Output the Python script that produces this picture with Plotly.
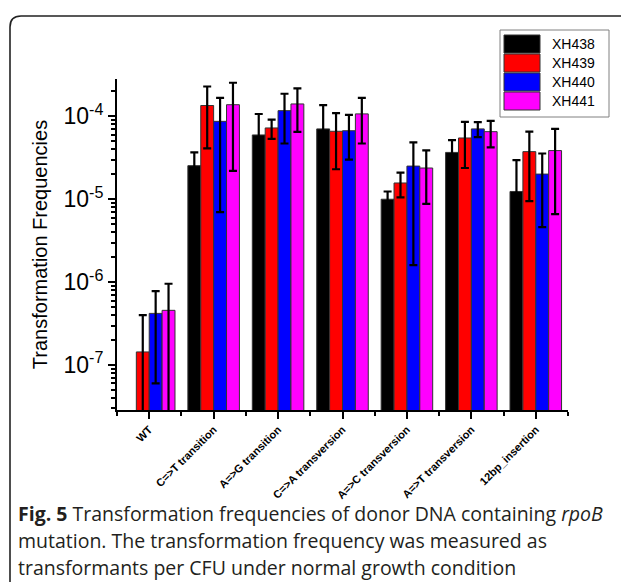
import plotly.graph_objects as go

categories = ["WT", "C=>T transition", "A=>G transition", "C=>A transversion",
              "A=>C transversion", "A=>T transversion", "12bp_insertion"]
series_names = ["XH438", "XH439", "XH440", "XH441"]
series_colors = ["#000000", "#FF0000", "#0000FF", "#FF00FF"]

XH438 = [None, 2.54e-5, 5.96e-5, 7.05e-5, 1.00e-5, 3.67e-5, 1.24e-5]
XH438_err = [None, 1.13e-5, 4.7e-5, 6.6e-5, 2.4e-6, 1.5e-5, 1.73e-5]
XH439 = [1.44e-7, 1.35e-4, 7.24e-5, 6.6e-5, 1.57e-5, 5.48e-5, 3.75e-5]
XH439_err = [2.56e-7, 9.4e-5, 1.9e-5, 4.3e-5, 5.2e-6, 3.1e-5, 2.8e-5]
XH440 = [4.2e-7, 8.7e-5, 1.17e-4, 6.7e-5, 2.51e-5, 7.05e-5, 2.01e-5]
XH440_err = [3.6e-7, 8.0e-5, 7.0e-5, 3.7e-5, 2.35e-5, 1.45e-5, 1.55e-5]
XH441 = [4.57e-7, 1.38e-4, 1.41e-4, 1.07e-4, 2.38e-5, 6.53e-5, 3.86e-5]
XH441_err = [5.0e-7, 1.16e-4, 7.6e-5, 6.0e-5, 1.5e-5, 2.3e-5, 3.2e-5]

y_tick_vals = [1e-7, 1e-6, 1e-5, 1e-4]
y_tick_text = ["10<sup>-7</sup>", "10<sup>-6</sup>", "10<sup>-5</sup>", "10<sup>-4</sup>"]

values = [XH438, XH439, XH440, XH441]
errors = [XH438_err, XH439_err, XH440_err, XH441_err]

W, H = 621, 582
L, R, T, B = 117, 53, 79, 172
PW, PH = W - L - R, H - T - B


def px(x):
    return (x - L) / PW


def py(y):
    return (H - B - y) / PH


fig = go.Figure()
xpos = list(range(len(categories)))
for name, color, vals, errs in zip(series_names, series_colors, values, errors):
    fig.add_trace(go.Bar(
        x=xpos, y=vals, name=name,
        marker=dict(color=color, line=dict(color="#333333", width=1)),
        error_y=dict(type="data", array=errs, visible=True, color="#000000",
                     thickness=2.2, width=4),
        showlegend=False, cliponaxis=False,
    ))

minor_y = [m * 10.0 ** e for e in range(-8, -3) for m in range(2, 10)]

fig.update_layout(
    width=W, height=H,
    margin=dict(l=L, r=R, t=T, b=B),
    paper_bgcolor="white", plot_bgcolor="white",
    barmode="group", bargap=0.2, bargroupgap=0,
    xaxis=dict(
        range=[-0.5, 6.5], tickmode="array", tickvals=xpos, ticktext=categories,
        tickangle=-45, showgrid=False, zeroline=False,
        showline=True, linecolor="black", linewidth=2,
        ticks="outside", ticklen=7, tickwidth=2, tickcolor="black",
        tickfont=dict(family="Arial, Liberation Sans", size=11, color="black",
                      weight="bold"),
        minor=dict(tickvals=[i - 0.5 for i in range(len(categories) + 1)],
                   ticks="outside", ticklen=4, tickwidth=2, tickcolor="black",
                   showgrid=False),
    ),
    yaxis=dict(
        type="log", range=[-7.542, -3.55],
        tickmode="array", tickvals=y_tick_vals, ticktext=y_tick_text,
        showgrid=False, zeroline=False,
        showline=True, linecolor="black", linewidth=2,
        ticks="outside", ticklen=7, tickwidth=2, tickcolor="black",
        tickfont=dict(family="Arial, Liberation Sans", size=23, color="black"),
        minor=dict(tickvals=minor_y, ticks="outside", ticklen=4, tickwidth=1.5,
                   tickcolor="black", showgrid=False),
        title=dict(text="Transformation Frequencies", standoff=10,
                   font=dict(family="Arial, Liberation Sans", size=20, color="black")),
    ),
)

shapes = []
# outer rounded frame
shapes.append(dict(
    type="path", xref="paper", yref="paper",
    path=(f"M {px(10)},{py(600)} L {px(10)},{py(27)} "
          f"Q {px(10)},{py(16)} {px(21)},{py(16)} L {px(640)},{py(16)}"),
    line=dict(color="#222222", width=1.6),
))
# legend box
shapes.append(dict(type="rect", xref="paper", yref="paper",
                   x0=px(500), x1=px(609), y0=py(117), y1=py(30),
                   line=dict(color="#808080", width=1), fillcolor="white"))
annotations = []
for i, (name, color) in enumerate(zip(series_names, series_colors)):
    top = 35 + i * 19
    shapes.append(dict(type="rect", xref="paper", yref="paper",
                       x0=px(504), x1=px(540), y0=py(top + 18), y1=py(top),
                       line=dict(color="#333333", width=1), fillcolor=color))
    annotations.append(dict(xref="paper", yref="paper", x=px(550), y=py(top + 9),
                            xanchor="left", yanchor="middle", showarrow=False,
                            text=name,
                            font=dict(family="Arial, Liberation Sans", size=14,
                                      color="black")))

caption_lines = [
    "<b>Fig. 5</b> Transformation frequencies of donor DNA containing <i>rpoB</i>",
    "mutation. The transformation frequency was measured as",
    "transformants per CFU under normal growth condition",
]
for i, line in enumerate(caption_lines):
    annotations.append(dict(xref="paper", yref="paper", x=px(16), y=py(513 + i * 27),
                            xanchor="left", yanchor="middle", showarrow=False,
                            text=line, align="left",
                            font=dict(family="Open Sans", size=19.5, color="#231F20")))

fig.update_layout(shapes=shapes, annotations=annotations)
fig.write_html("out.html")
